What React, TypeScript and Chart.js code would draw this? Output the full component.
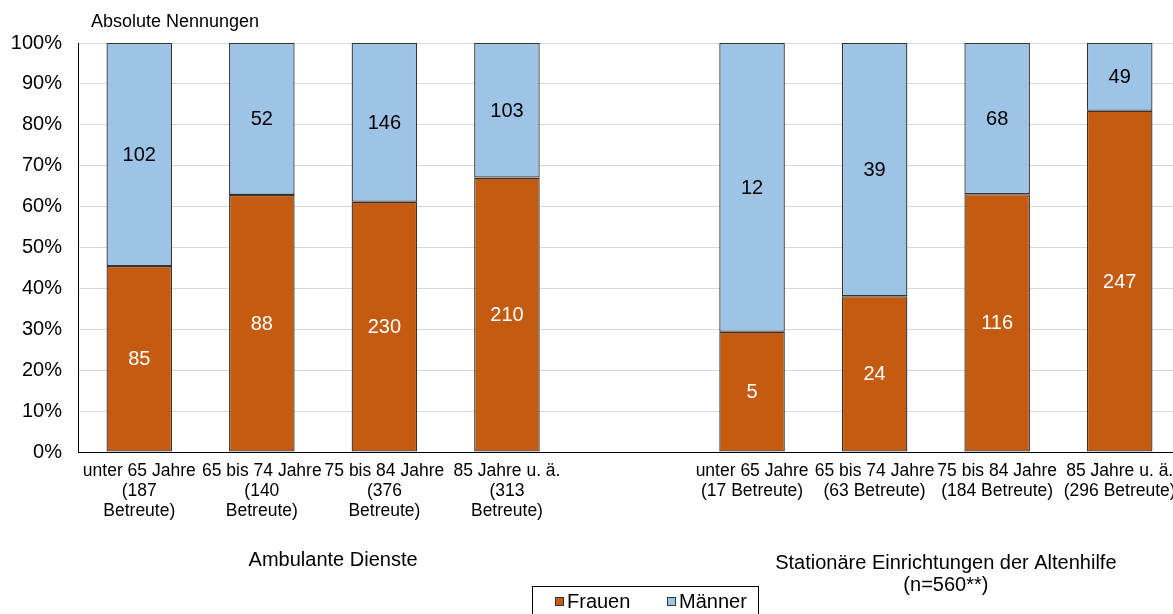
import React, { useEffect, useRef } from "react";
import { Chart, registerables } from "chart.js";

Chart.register(...registerables);

// ---- data ----
const tickLabels: string[][] = [
  ["unter 65 Jahre", "(187", "Betreute)"],
  ["65 bis 74 Jahre", "(140", "Betreute)"],
  ["75 bis 84 Jahre", "(376", "Betreute)"],
  ["85 Jahre u. ä.", "(313", "Betreute)"],
  [""],
  ["unter 65 Jahre", "(17 Betreute)"],
  ["65 bis 74 Jahre", "(63 Betreute)"],
  ["75 bis 84 Jahre", "(184 Betreute)"],
  ["85 Jahre u. ä.", "(296 Betreute)"],
];
const frauenCounts: (number | null)[] = [85, 88, 230, 210, null, 5, 24, 116, 247];
const maennerCounts: (number | null)[] = [102, 52, 146, 103, null, 12, 39, 68, 49];
const yTicks: number[] = [0, 10, 20, 30, 40, 50, 60, 70, 80, 90, 100];
const groupTitles: { text: string[]; from: number; to: number }[] = [
  { text: ["Ambulante Dienste"], from: 0, to: 3 },
  { text: ["Stationäre Einrichtungen der Altenhilfe", "(n=560**)"], from: 5, to: 8 },
];
const yAxisTitle = "Absolute Nennungen";

const FONT = "'Liberation Sans', Arial, Helvetica, sans-serif";
const COL_F = "#C55A11";
const COL_M = "#9DC3E6";
const BORDER = "#333333";

const pct = (a: number | null, b: number | null): number | null =>
  a == null || b == null ? null : (a / (a + b)) * 100;

const frauenPct = frauenCounts.map((v, i) => pct(v, maennerCounts[i]));
const maennerPct = maennerCounts.map((v, i) => pct(v, frauenCounts[i]));

const extrasPlugin = {
  id: "extras",
  afterDatasetsDraw(chart: any) {
    const ctx = chart.ctx;
    ctx.save();
    const counts = [frauenCounts, maennerCounts];
    chart.data.datasets.forEach((ds: any, di: number) => {
      const meta = chart.getDatasetMeta(di);
      meta.data.forEach((el: any, i: number) => {
        const c = counts[di][i];
        if (c == null) return;
        ctx.font = `20px ${FONT}`;
        ctx.fillStyle = di === 0 ? "#ffffff" : "#000000";
        ctx.textAlign = "center";
        ctx.textBaseline = "middle";
        ctx.fillText(String(c), el.x, (el.y + el.base) / 2 + 1);
      });
    });
    ctx.restore();
  },
  afterDraw(chart: any) {
    const ctx = chart.ctx;
    const xs = chart.scales.x;
    ctx.save();
    ctx.fillStyle = "#000";
    ctx.textBaseline = "middle";
    // axis title
    ctx.font = `18px ${FONT}`;
    ctx.textAlign = "left";
    ctx.fillText(yAxisTitle, 91, 22);
    // group titles
    ctx.font = `20px ${FONT}`;
    ctx.textAlign = "center";
    groupTitles.forEach((g) => {
      const cx = (xs.getPixelForValue(g.from) + xs.getPixelForValue(g.to)) / 2 + 10;
      const y0 = g.text.length > 1 ? 563 : 560;
      g.text.forEach((t, k) => ctx.fillText(t, cx, y0 + k * 22));
    });
    // legend
    ctx.strokeStyle = "#000";
    ctx.lineWidth = 1;
    ctx.strokeRect(532.5, 586.5, 226, 30);
    const items = chart.data.datasets.map((d: any) => ({ label: d.label, color: d.backgroundColor }));
    const pos = [555, 667];
    ctx.font = `20px ${FONT}`;
    ctx.textAlign = "left";
    items.forEach((it: any, k: number) => {
      const x = pos[k];
      ctx.fillStyle = it.color;
      ctx.fillRect(x, 597, 9, 9);
      ctx.strokeStyle = BORDER;
      ctx.strokeRect(x + 0.5, 597.5, 8, 8);
      ctx.fillStyle = "#000";
      ctx.fillText(it.label, x + 12, 602);
    });
    ctx.restore();
  },
};

export default function App() {
  const ref = useRef<HTMLCanvasElement | null>(null);
  useEffect(() => {
    if (!ref.current) return;
    Chart.defaults.font.family = FONT;
    Chart.defaults.color = "#000";
    const chart = new Chart(ref.current, {
      type: "bar",
      data: {
        labels: tickLabels,
        datasets: [
          {
            label: "Frauen",
            data: frauenPct,
            backgroundColor: COL_F,
            borderColor: BORDER,
            borderWidth: 1.3,
            borderSkipped: false,
            categoryPercentage: 1,
            barPercentage: 0.535,
          },
          {
            label: "Männer",
            data: maennerPct,
            backgroundColor: COL_M,
            borderColor: BORDER,
            borderWidth: 1.3,
            borderSkipped: false,
            categoryPercentage: 1,
            barPercentage: 0.535,
          },
        ],
      },
      options: {
        responsive: false,
        animation: false,
        layout: { padding: { top: 43, right: 9, left: 0, bottom: 0 } },
        plugins: {
          legend: { display: false },
          tooltip: { enabled: false },
          title: { display: false },
        },
        scales: {
          x: {
            stacked: true,
            grid: { display: false, drawTicks: false },
            border: { color: "#000", width: 1 },
            ticks: {
              autoSkip: false,
              maxRotation: 0,
              minRotation: 0,
              padding: 9,
              font: { size: 17.5, lineHeight: 1.15 },
              color: "#000",
            },
            afterFit: (s: any) => {
              s.height = 162;
            },
          },
          y: {
            stacked: true,
            min: 0,
            max: 100,
            afterBuildTicks: (s: any) => {
              s.ticks = yTicks.map((v) => ({ value: v }));
            },
            grid: { color: "#d9d9d9", drawTicks: false },
            border: { color: "#000", width: 1 },
            ticks: {
              padding: 16,
              font: { size: 20 },
              color: "#000",
              callback: (v: any) => `${v}%`,
            },
            afterFit: (s: any) => {
              s.width = 78;
            },
          },
        },
      },
      plugins: [extrasPlugin],
    });
    return () => chart.destroy();
  }, []);
  return (
    <div
      style={{
        position: "absolute",
        left: 0,
        top: 0,
        width: 1173,
        height: 614,
        overflow: "hidden",
        background: "#fff",
      }}
    >
      <canvas ref={ref} width={1190} height={614} style={{ display: "block" }} />
    </div>
  );
}
